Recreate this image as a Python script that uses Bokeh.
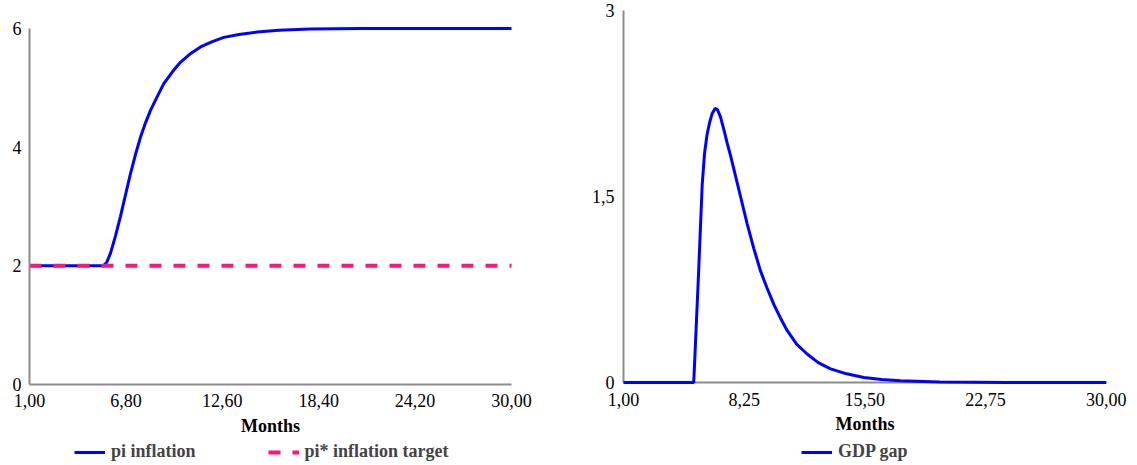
from bokeh.plotting import figure
from bokeh.layouts import row
from bokeh.models import FixedTicker, Legend, LegendItem, Range1d
from bokeh.embed import file_html
from bokeh.resources import INLINE

# ---- data ----
pi_t = [1.0, 5.45, 5.65, 5.87, 6.17, 6.47, 6.78, 7.08, 7.38, 7.68, 7.98, 8.28, 8.7, 9.08, 9.6, 10.08,
        10.7, 11.29, 12.0, 12.69, 13.6, 14.7, 16.0, 17.9, 21.0, 30.0]
pi_v = [2.0, 2.0, 2.06, 2.21, 2.5, 2.83, 3.2, 3.56, 3.88, 4.17, 4.41, 4.62, 4.86, 5.07, 5.27, 5.43,
        5.58, 5.69, 5.78, 5.85, 5.9, 5.94, 5.97, 5.99, 6.0, 6.0]
target_t = [1.0, 30.0]
target_v = [2.0, 2.0]

gap_t = [1.0, 5.22, 5.5, 5.73, 5.87, 6.02, 6.18, 6.33, 6.5, 6.65, 6.83, 7.03, 7.23, 7.43, 7.63, 8.03,
         8.43, 8.83, 9.23, 9.63, 10.03, 10.43, 10.83, 11.4, 12.03, 12.7, 13.44, 14.4, 15.44, 16.5,
         17.64, 20.0, 24.0, 30.0]
gap_v = [0.0, 0.0, 0.85, 1.6, 1.85, 2.0, 2.1, 2.17, 2.21, 2.2, 2.14, 2.04, 1.93, 1.83, 1.72, 1.5,
         1.28, 1.08, 0.9, 0.76, 0.63, 0.52, 0.42, 0.31, 0.23, 0.16, 0.11, 0.07, 0.04, 0.025,
         0.015, 0.005, 0.0, 0.0]

left_xticks = [1.0, 6.8, 12.6, 18.4, 24.2, 30.0]
left_xlabels = ["1,00", "6,80", "12,60", "18,40", "24,20", "30,00"]
left_yticks = [0, 2, 4, 6]
left_ylabels = ["0", "2", "4", "6"]
right_xticks = [1.0, 8.25, 15.5, 22.75, 30.0]
right_xlabels = ["1,00", "8,25", "15,50", "22,75", "30,00"]
right_yticks = [0, 1.5, 3]
right_ylabels = ["0", "1,5", "3"]

FONT = "Liberation Serif"
FS = "18px"
BLUE = "#0000FF"
PINK = "#FF1478"
AXIS = "#8C8C8C"


def style(p, xt, xl, yt, yl, xb, yb):
    p.grid.visible = False
    p.outline_line_color = None
    p.xaxis.ticker = FixedTicker(ticks=xt)
    p.yaxis.ticker = FixedTicker(ticks=yt)
    p.xaxis.major_label_overrides = {t: l for t, l in zip(xt, xl)}
    p.yaxis.major_label_overrides = {t: l for t, l in zip(yt, yl)}
    for ax in (p.xaxis[0], p.yaxis[0]):
        ax.axis_line_color = AXIS
        ax.axis_line_width = 2
        ax.major_tick_line_color = None
        ax.minor_tick_line_color = None
        ax.major_tick_out = 0
        ax.major_tick_in = 0
        ax.minor_tick_out = 0
        ax.major_label_text_font = FONT
        ax.major_label_text_font_size = FS
        ax.major_label_text_color = "black"
    # axes drawn at the data origin inside the frame, so labels and legend fit around them
    p.xaxis.fixed_location = yb[0]
    p.yaxis.fixed_location = xb[0]
    p.xaxis.bounds = xb
    p.yaxis.bounds = yb
    p.xaxis.major_label_standoff = 10
    p.yaxis.major_label_standoff = 8
    p.xaxis.axis_label = "Months"
    p.xaxis.axis_label_text_font = FONT
    p.xaxis.axis_label_text_font_size = FS
    p.xaxis.axis_label_text_font_style = "bold"
    p.xaxis.axis_label_text_color = "black"
    p.xaxis.axis_label_standoff = 5


def make_legend(items, spacing, loc):
    lg = Legend(items=items, orientation="horizontal", location=loc)
    lg.border_line_color = None
    lg.background_fill_alpha = 0
    lg.label_text_font = FONT
    lg.label_text_font_style = "bold"
    lg.label_text_font_size = FS
    lg.glyph_width = 31
    lg.glyph_height = 16
    lg.label_height = 20
    lg.label_standoff = 6
    lg.spacing = spacing
    lg.padding = 0
    lg.margin = 0
    return lg


# ---- left chart ----
p1 = figure(frame_width=568, frame_height=463, x_range=Range1d(-0.7448, 33.4295),
            y_range=Range1d(-1.3315, 6.4719),
            output_backend="svg", toolbar_location=None,
            min_border_left=0, min_border_top=0, min_border_right=0, min_border_bottom=0)
style(p1, left_xticks, left_xlabels, left_yticks, left_ylabels, (1, 30), (0, 6))
r_pi = p1.line(pi_t, pi_v, line_color=BLUE, line_width=3)
r_tg = p1.line(target_t, target_v, line_color=PINK, line_width=4, line_dash="12 12")
p1.add_layout(make_legend([LegendItem(label="pi inflation", renderers=[r_pi]),
                           LegendItem(label="pi* inflation target", renderers=[r_tg])], 72, (74, 1)))

# ---- right chart ----
p2 = figure(frame_width=569, frame_height=463, x_range=Range1d(-2.3043, 31.880),
            y_range=Range1d(-0.6532, 3.0806),
            output_backend="svg", toolbar_location=None,
            min_border_left=0, min_border_top=0, min_border_right=0, min_border_bottom=0)
style(p2, right_xticks, right_xlabels, right_yticks, right_ylabels, (1, 30), (0, 3))
p2.yaxis.major_label_standoff = 9
r_gap = p2.line(gap_t, gap_v, line_color=BLUE, line_width=3, level="overlay")
p2.add_layout(make_legend([LegendItem(label="GDP gap", renderers=[r_gap])], 20, (233, 1)))

layout = row(p1, p2)
open("out.html", "w").write(file_html(layout, INLINE))
